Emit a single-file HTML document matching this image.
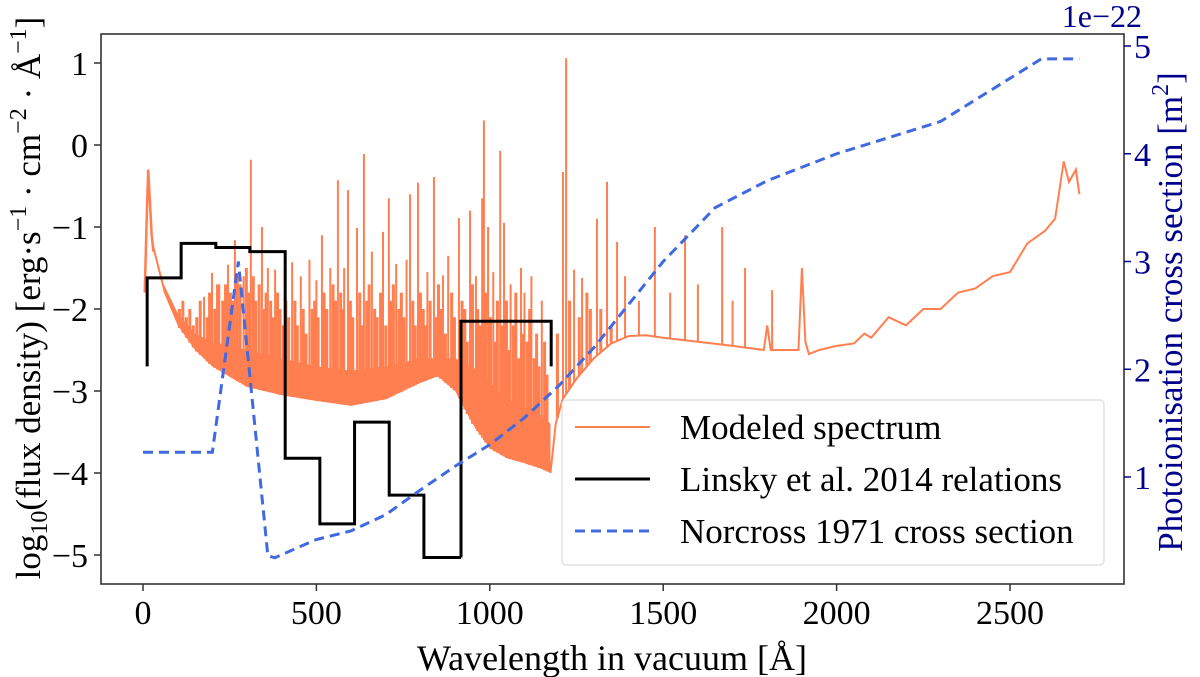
<!DOCTYPE html>
<html><head><meta charset="utf-8"><style>
body{margin:0;background:#fff;}
svg{display:block;font-family:"Liberation Serif",serif;}
</style></head><body>
<svg id="chart" width="1200" height="677" viewBox="0 0 1200 677">
<g id="marks"></g>
<rect x="101" y="34" width="1023" height="550" fill="none" stroke="#333" stroke-width="1.6"/>
<g id="axes"></g>
<g>
<rect x="562" y="400" width="542" height="165" rx="4" fill="#fff" fill-opacity="0.85" stroke="#ddd" stroke-width="1.2"/>
<line x1="575" y1="427" x2="650" y2="427" stroke="#ff7f50" stroke-width="2"/>
<text x="680" y="439" font-size="35">Modeled spectrum</text>
<line x1="575" y1="479" x2="650" y2="479" stroke="#000" stroke-width="3"/>
<text x="680" y="491" font-size="35">Linsky et al. 2014 relations</text>
<line x1="575" y1="531" x2="650" y2="531" stroke="#4169e1" stroke-width="3" stroke-dasharray="10,6"/>
<text x="680" y="543" font-size="35">Norcross 1971 cross section</text>
</g>
<text x="612" y="670" font-size="36" text-anchor="middle">Wavelength in vacuum [Å]</text>
<text transform="translate(40,298) rotate(-90)" font-size="35" text-anchor="middle">log<tspan font-size="24" dy="7">10</tspan><tspan dy="-7">(flux density) [erg·s</tspan><tspan font-size="24" dy="-14">−1</tspan><tspan dy="14"> · cm</tspan><tspan font-size="24" dy="-14">−2</tspan><tspan dy="14"> · Å</tspan><tspan font-size="24" dy="-14">−1</tspan><tspan dy="14">]</tspan></text>
<text transform="translate(1182,312) rotate(-90)" font-size="35" fill="#00008b" text-anchor="middle">Photoionisation cross section [m<tspan font-size="24" dy="-14">2</tspan><tspan dy="14">]</tspan></text>
<text x="1142" y="27" font-size="32" fill="#00008b" text-anchor="end">1e−22</text>
</svg>
<script>
const xTicks=[0,500,1000,1500,2000,2500];
const yTicksLeft=[1,0,-1,-2,-3,-4,-5];
const yTicksRight=[1,2,3,4,5];
const bandWaves=[30,60,100,150,200,300,400,500,600,700,800,850,900,950,1000,1050,1100,1150,1175];
const bandLower=[-1.3,-1.8,-2.2,-2.5,-2.7,-2.95,-3.05,-3.12,-3.18,-3.1,-2.9,-2.82,-3.0,-3.4,-3.7,-3.82,-3.88,-3.95,-4.0];
const bandUpper=[-1.2,-1.7,-2.05,-2.3,-2.4,-2.5,-2.6,-2.7,-2.75,-2.7,-2.6,-2.6,-2.6,-2.7,-2.9,-3.1,-3.2,-3.3,-3.4];
const headWaves=[5,10,15,20,25,30];
const headValues=[-1.8,-1.0,-0.3,-0.7,-1.1,-1.3];
const contWaves=[1175,1180,1190,1210,1250,1300,1350,1400,1450,1500,1600,1700,1790,1800,1810,1890,1900,1910,1920,1950,2000,2050,2080,2100,2150,2200,2250,2300,2350,2400,2450,2500,2550,2600,2630,2655,2670,2690,2700];
const contValues=[-4.0,-3.8,-3.4,-3.1,-2.85,-2.6,-2.42,-2.33,-2.32,-2.35,-2.4,-2.45,-2.5,-2.2,-2.5,-2.5,-1.5,-2.4,-2.55,-2.5,-2.45,-2.42,-2.3,-2.35,-2.1,-2.2,-2.0,-2.0,-1.8,-1.75,-1.6,-1.55,-1.2,-1.05,-0.9,-0.2,-0.45,-0.3,-0.6];
const lineWaves=[311,343,265,516,562,591,617,637,709,770,793,839,911,943,978,983,1030,1041,1090,1211,1220,1338,1243,1266,995,692,865,245,199,176,430,381,1476,1563,1670,1736,1814,1309,1367,455,480,540,660,730,820,880,1060,1120,1150,220,290,360,500,580,760,960,1010,1100,1390,1430,1520,1600,1700];
const lineValues=[-0.18,-1.0,-1.16,-1.1,-0.43,-0.55,-1.01,-0.11,-0.65,-0.6,-0.46,-0.39,-0.89,-0.8,-0.65,0.3,-0.07,-0.95,-1.5,-0.33,1.06,-0.45,-1.52,-1.62,-1.0,-1.06,-1.59,-1.46,-1.56,-1.85,-1.43,-1.52,-1.0,-1.1,-1.0,-1.5,-1.77,-0.9,-1.18,-1.6,-1.4,-1.5,-1.3,-1.45,-1.55,-1.35,-1.7,-1.6,-1.9,-1.7,-1.6,-1.5,-1.65,-1.5,-1.4,-1.6,-1.55,-1.8,-1.6,-1.9,-1.8,-1.7,-1.9];
const minorWaves=[105,115,125,135,145,155,165,185,192,207,215,230,238,252,258,272,280,298,305,318,325,335,350,355,368,375,388,395,405,412,420,438,445,462,470,488,495,505,522,530,548,555,570,576,598,605,625,630,645,652,668,675,685,700,715,722,738,745,752,778,785,800,808,815,828,845,852,858,872,890,898,920,928,935,950,965,972,988,1002,1015,1022,1035,1048,1055,1068,1075,1083,1095,1108,1115,1128,1135,1142,1158,1165,1195,1230,1258,1280,1290,1320,1350];
const minorValues=[-2.0,-1.9,-2.1,-2.0,-2.2,-2.1,-1.9,-2.1,-1.8,-2.0,-1.7,-1.9,-1.7,-1.8,-1.9,-1.6,-1.7,-1.5,-1.8,-1.6,-1.9,-1.7,-2.0,-1.8,-1.9,-2.1,-1.8,-2.0,-2.2,-1.9,-2.1,-1.9,-2.2,-2.0,-2.3,-2.0,-1.9,-2.1,-1.8,-2.0,-1.7,-1.9,-1.8,-2.0,-1.9,-2.1,-1.8,-2.2,-1.9,-1.7,-2.0,-2.1,-1.8,-2.2,-1.9,-1.7,-2.0,-1.8,-2.1,-1.9,-2.2,-1.8,-2.0,-2.2,-1.9,-2.1,-1.7,-2.0,-2.3,-1.8,-2.1,-1.9,-2.0,-2.4,-1.7,-2.0,-2.2,-1.8,-2.1,-2.4,-1.9,-2.2,-1.9,-2.5,-2.2,-1.8,-2.6,-2.3,-2.4,-2.0,-2.6,-2.3,-2.7,-2.4,-2.8,-2.3,-1.9,-2.1,-1.8,-2.0,-2.0,-2.2];
const binEdges=[12,110,210,308,410,510,610,710,810,917];
const binValues=[-1.62,-1.2,-1.25,-1.3,-3.82,-4.62,-3.38,-4.27,-5.03];
const bin2Edges=[917,1177];
const bin2Value=-2.15;
const stepBase=-2.7;
const csWaves=[0,200,275,360,380,450,500,600,700,800,900,1000,1100,1200,1300,1400,1500,1650,1800,2000,2300,2590,2700];
const csValues=[1.23,1.23,3.0,0.27,0.25,0.35,0.42,0.5,0.65,0.88,1.1,1.3,1.55,1.85,2.2,2.6,3.0,3.5,3.75,4.0,4.3,4.88,4.88];

const X=w=>143+w*0.3468;
const YL=v=>145-v*82;
const YR=v=>477-(v-1)*107.75;
const NS='http://www.w3.org/2000/svg';
const marks=document.getElementById('marks'),axes=document.getElementById('axes');
function mk(tag,attrs,parent){const e=document.createElementNS(NS,tag);for(const k in attrs)e.setAttribute(k,attrs[k]);parent.appendChild(e);return e;}
function interp(w,ws,vs){for(let i=0;i<ws.length-1;i++){if(w>=ws[i]&&w<=ws[i+1]){const t=(w-ws[i])/(ws[i+1]-ws[i]);return vs[i]+t*(vs[i+1]-vs[i]);}}return null;}
function contBase(w){let b=interp(w,bandWaves,bandLower);if(b!==null)return b;b=interp(w,contWaves,contValues);return b===null?-2:b;}
let pts=bandWaves.map((w,i)=>X(w)+','+YL(bandUpper[i]));
pts=pts.concat(bandWaves.slice().reverse().map((w,i)=>X(w)+','+YL(bandLower[bandWaves.length-1-i])));
const band=mk('polygon',{points:pts.join(' '),fill:'#ff7f50'},marks);


const head=mk('polyline',{points:headWaves.map((w,i)=>X(w)+','+YL(headValues[i])).join(' ')+' '+X(30)+','+YL(bandLower[0]),fill:'none',stroke:'#ff7f50','stroke-width':2.5},marks);


const cont=mk('polyline',{points:contWaves.map((w,i)=>X(w)+','+YL(contValues[i])).join(' '),fill:'none',stroke:'#ff7f50','stroke-width':2},marks);


minorWaves.forEach((w,i)=>{const l=mk('line',{x1:X(w),x2:X(w),y1:YL(contBase(w)),y2:YL(minorValues[i]),stroke:'#ff7f50','stroke-width':3},marks);

});
lineWaves.forEach((w,i)=>{const l=mk('line',{x1:X(w),x2:X(w),y1:YL(contBase(w)),y2:YL(lineValues[i]),stroke:'#ff7f50','stroke-width':2},marks);

});
let sp=[X(binEdges[0])+','+YL(stepBase)];
binValues.forEach((v,i)=>{sp.push(X(binEdges[i])+','+YL(v));sp.push(X(binEdges[i+1])+','+YL(v));});
const st=mk('polyline',{points:sp.join(' '),fill:'none',stroke:'#000','stroke-width':3},marks);


const st2=mk('polyline',{points:[X(bin2Edges[0])+','+YL(binValues[binValues.length-1]),X(bin2Edges[0])+','+YL(bin2Value),X(bin2Edges[1])+','+YL(bin2Value),X(bin2Edges[1])+','+YL(stepBase)].join(' '),fill:'none',stroke:'#000','stroke-width':3},marks);


const cs=mk('polyline',{points:csWaves.map((w,i)=>X(w)+','+YR(csValues[i])).join(' '),fill:'none',stroke:'#4169e1','stroke-width':3,'stroke-dasharray':'10,6'},marks);


xTicks.forEach(t=>{mk('line',{x1:X(t),x2:X(t),y1:584,y2:591,stroke:'#333','stroke-width':1.5},axes);
const tx=mk('text',{x:X(t),y:624,'font-size':34,'text-anchor':'middle'},axes);tx.textContent=t;

});
yTicksLeft.forEach(t=>{mk('line',{x1:94,x2:101,y1:YL(t),y2:YL(t),stroke:'#333','stroke-width':1.5},axes);
const tx=mk('text',{x:88,y:YL(t)+12,'font-size':34,'text-anchor':'end'},axes);tx.textContent=t<0?'−'+(-t):t;

});
yTicksRight.forEach(t=>{mk('line',{x1:1124,x2:1131,y1:YR(t),y2:YR(t),stroke:'#00008b','stroke-width':1.5},axes);
const tx=mk('text',{x:1134,y:YR(t)+12,'font-size':34,fill:'#00008b'},axes);tx.textContent=t;

});
</script>
</body></html>
